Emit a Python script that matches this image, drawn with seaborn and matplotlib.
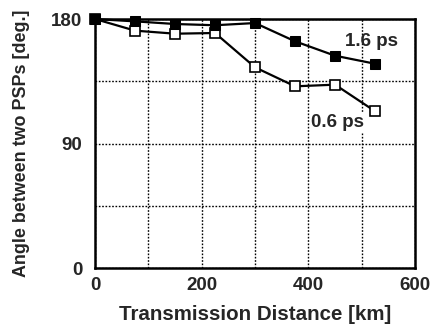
import matplotlib
matplotlib.use("Agg")
import matplotlib.pyplot as plt
from matplotlib.ticker import MultipleLocator
import seaborn as sns
import pandas as pd

# Transmission distance [km] and the angle between the two PSPs [deg.]
distance_km = [0, 75, 150, 225, 300, 375, 450, 525]
angle_1p6ps = [180, 178.3, 176.4, 175.5, 177.1, 163.9, 153.5, 147.7]
angle_0p6ps = [180, 171.6, 169.4, 169.9, 145.1, 131.4, 132.6, 113.4]
series_labels = ["1.6 ps", "0.6 ps"]

df = pd.concat([
    pd.DataFrame({"distance": distance_km, "angle": angle_1p6ps, "dgd": series_labels[0]}),
    pd.DataFrame({"distance": distance_km, "angle": angle_0p6ps, "dgd": series_labels[1]}),
])

sns.set_style("white")
plt.rcParams["font.family"] = ["Liberation Sans", "DejaVu Sans"]
plt.rcParams["font.weight"] = "bold"

fig = plt.figure(figsize=(4.36, 3.29), dpi=100)
ax = fig.add_axes([0.218, 0.1845, 0.734, 0.7577])

sns.lineplot(data=df[df.dgd == series_labels[0]], x="distance", y="angle",
             color="black", linewidth=1.6, marker="s", markersize=6.5,
             markerfacecolor="black", markeredgecolor="black", ax=ax, legend=False,
             clip_on=False, zorder=4)
sns.lineplot(data=df[df.dgd == series_labels[1]], x="distance", y="angle",
             color="black", linewidth=1.6, marker="s", markersize=6.5,
             markerfacecolor="white", markeredgecolor="black", markeredgewidth=1.2,
             ax=ax, legend=False, clip_on=False, zorder=3)

ax.set_xlim(0, 600)
ax.set_ylim(0, 180)
ax.xaxis.set_major_locator(MultipleLocator(200))
ax.xaxis.set_minor_locator(MultipleLocator(100))
ax.yaxis.set_major_locator(MultipleLocator(90))
ax.yaxis.set_minor_locator(MultipleLocator(45))
ax.grid(True, which="both", color="black", linestyle=(0, (1.2, 1.2)), linewidth=1.0)
ax.set_axisbelow(True)
ax.tick_params(which="both", length=0, labelsize=13.5)
ax.tick_params(axis="x", pad=6)
ax.tick_params(axis="y", pad=9)
for lbl in ax.get_xticklabels() + ax.get_yticklabels():
    lbl.set_fontweight("bold")
for sp in ax.spines.values():
    sp.set_visible(True)
    sp.set_color("black")
    sp.set_linewidth(1.8)

ax.set_xlabel("Transmission Distance [km]", fontsize=14.8, fontweight="bold", labelpad=8)
ax.set_ylabel("Angle between two PSPs [deg.]", fontsize=12.9, fontweight="bold", labelpad=15)

ax.text(519, 163.7, series_labels[0], fontsize=13.5, fontweight="bold", ha="center", va="center")
ax.text(455, 105.3, series_labels[1], fontsize=13.5, fontweight="bold", ha="center", va="center",
        bbox=dict(facecolor="white", edgecolor="none", pad=0.5))

fig.savefig("out.png", dpi=100)
